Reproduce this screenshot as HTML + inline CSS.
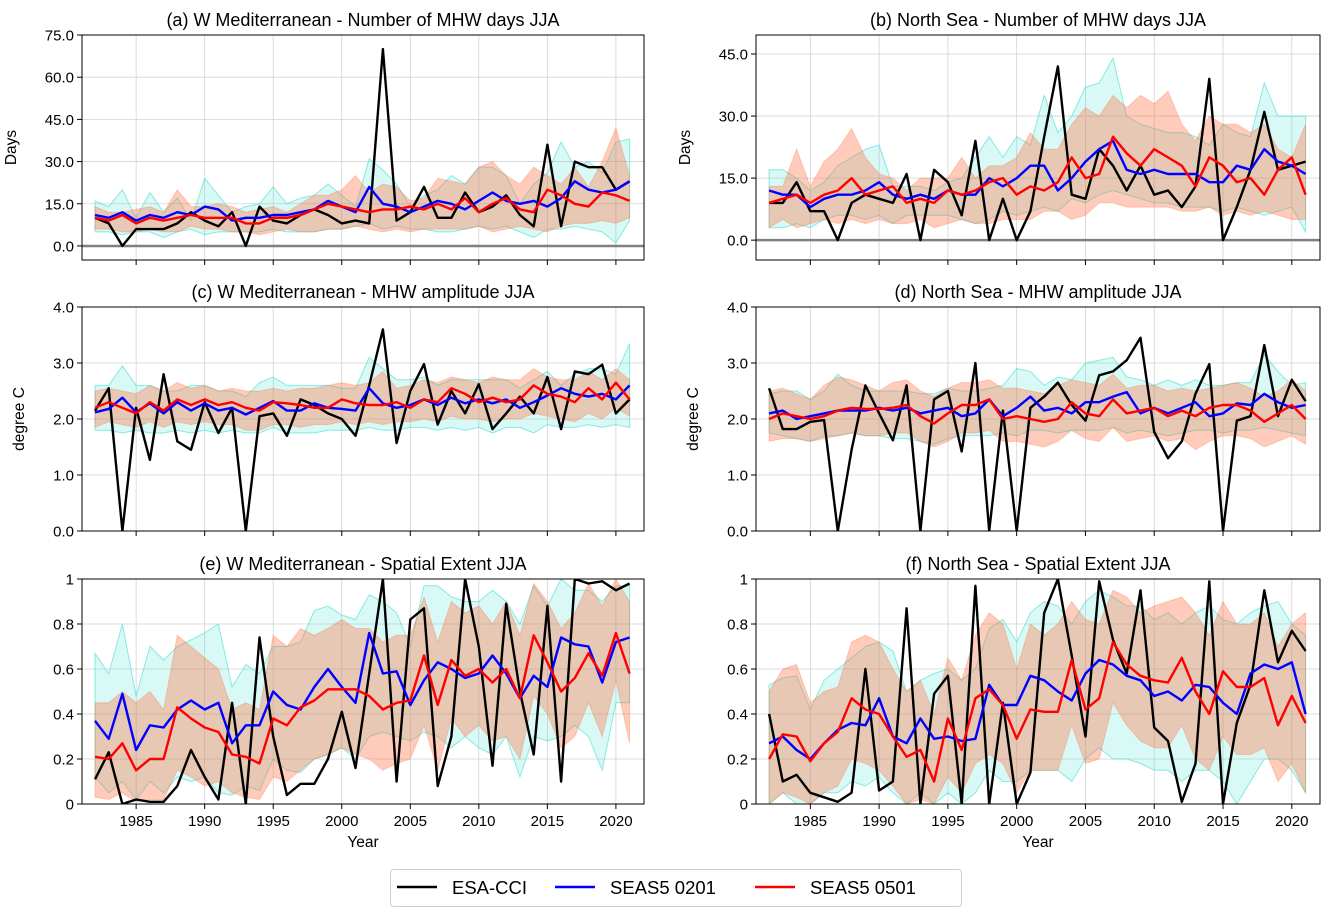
<!DOCTYPE html>
<html><head><meta charset="utf-8"><style>
html,body{margin:0;padding:0;background:#fff;}
svg{display:block;font-family:"Liberation Sans","DejaVu Sans",sans-serif;}
</style></head><body>
<svg id="s" width="1334" height="919" xmlns="http://www.w3.org/2000/svg"></svg>
<script>
const S=document.getElementById('s');let h='';
const P=[
{x0:82,x1:644,y0:35,y1:260,ymin:-5,ymax:75,ticks:[0,15,30,45,60,75],fmt:v=>v.toFixed(1),title:'(a) W Mediterranean - Number of MHW days JJA',yl:'Days',zero:true,xl:false,
k:[10,8,0,6,6,6,8,12,9,7,12,0,14,9,8,11,13,11,8,9,8,70,9,12,21,10,10,19,12,14,18,11,7,36,7,30,28,28,20,23],
b:[11,10,12,9,11,10,12,11,14,13,9,10,10,11,11,12,13,16,14,12,21,15,14,12,14,16,15,13,16,19,16,15,16,14,17,23,20,19,20,23],
r:[10,9,11,8,10,9,10,11,10,10,10,8,8,10,10,11,13,15,14,13,12,13,13,14,13,15,13,17,12,15,17,13,12,20,18,15,14,19,18,16],
cu:[16,14,20,10,19,12,17,9,24,18,12,14,15,21,15,17,18,22,18,14,31,27,22,14,18,20,25,22,28,28,25,15,22,26,37,28,30,26,37,38],
cl:[5,5,4,5,5,3,5,6,4,5,5,5,5,6,5,5,5,6,6,7,8,6,7,6,6,5,5,6,7,6,7,5,3,6,6,7,6,5,1,9],
ou:[14,12,12,13,14,12,20,14,14,15,14,12,13,14,12,15,18,18,20,25,19,22,21,16,17,24,23,22,28,30,25,22,28,25,22,28,21,30,42,25],
ol:[6,6,5,5,6,5,5,7,6,6,5,5,4,5,6,5,5,6,6,7,6,5,6,5,6,6,6,6,7,5,6,7,6,5,7,8,8,9,8,10]},
{x0:756,x1:1320,y0:35,y1:260,ymin:-4.8,ymax:49.6,ticks:[0,15,30,45],fmt:v=>v.toFixed(1),title:'(b) North Sea - Number of MHW days JJA',yl:'Days',zero:true,xl:false,
k:[9,9,14,7,7,0,9,11,10,9,16,0,17,14,6,24,0,10,0,7,25,42,11,10,22,18,12,18,11,12,8,13,39,0,8,17,31,17,18,19],
b:[12,11,11,8,10,11,11,12,14,11,10,11,10,12,11,11,15,13,15,18,18,12,15,19,22,24,17,16,17,16,16,16,14,14,18,17,22,19,18,16],
r:[9,10,11,9,11,12,15,11,12,13,9,10,9,12,11,12,14,15,11,13,12,14,20,15,16,25,21,18,22,20,18,13,20,18,14,15,11,17,20,11],
cu:[17,17,15,12,14,18,20,22,23,13,13,13,12,14,15,20,25,20,25,23,35,26,30,37,38,44,30,28,27,26,26,25,23,28,26,25,38,30,30,30],
cl:[3,3,4,3,5,6,6,5,6,4,6,6,6,6,5,4,5,7,6,7,8,7,10,9,11,12,11,10,9,9,8,8,8,7,8,7,6,7,8,2],
ou:[13,13,22,13,19,22,27,20,16,15,12,15,15,15,20,15,18,18,20,26,22,22,28,32,30,35,32,35,33,36,28,24,30,28,28,26,28,22,20,28],
ol:[3,5,3,4,5,4,5,4,5,4,4,5,3,4,5,4,4,5,5,5,7,7,5,6,9,9,8,8,8,8,7,7,8,6,7,6,7,6,5,5]},
{x0:82,x1:644,y0:307,y1:531,ymin:0,ymax:4,ticks:[0,1,2,3,4],fmt:v=>v.toFixed(1),title:'(c) W Mediterranean - MHW amplitude JJA',yl:'degree C',xl:false,
k:[2.15,2.55,0,2.2,1.27,2.8,1.6,1.45,2.3,1.75,2.2,0,2.05,2.1,1.7,2.35,2.25,2.1,2.0,1.7,2.6,3.6,1.57,2.5,2.98,1.9,2.5,2.1,2.62,1.82,2.1,2.4,2.1,2.75,1.82,2.85,2.8,2.97,2.1,2.35],
b:[2.12,2.18,2.38,2.12,2.28,2.1,2.3,2.15,2.28,2.15,2.2,2.08,2.2,2.32,2.15,2.15,2.28,2.2,2.18,2.15,2.55,2.28,2.2,2.25,2.35,2.25,2.38,2.28,2.35,2.28,2.35,2.2,2.3,2.42,2.55,2.45,2.4,2.45,2.35,2.6],
r:[2.2,2.3,2.2,2.1,2.3,2.15,2.35,2.25,2.35,2.25,2.3,2.2,2.15,2.3,2.28,2.25,2.2,2.2,2.35,2.28,2.25,2.25,2.3,2.2,2.35,2.3,2.55,2.45,2.3,2.38,2.3,2.35,2.6,2.45,2.4,2.3,2.55,2.35,2.65,2.35],
cu:[2.6,2.6,2.95,2.6,2.6,2.5,2.5,2.6,2.6,2.5,2.5,2.4,2.65,2.75,2.6,2.6,2.6,2.6,2.55,2.55,3.1,2.9,2.7,2.7,2.75,2.6,2.7,2.7,2.7,2.7,2.7,2.55,2.7,2.85,2.6,2.8,2.9,2.9,2.8,3.35],
cl:[1.8,1.8,1.75,1.8,1.75,1.75,1.8,1.75,1.8,1.75,1.8,1.75,1.75,1.85,1.75,1.75,1.75,1.8,1.8,1.8,1.85,1.8,1.8,1.85,1.85,1.8,1.85,1.8,1.85,1.75,1.85,1.85,1.75,1.9,1.85,1.85,1.9,1.85,1.9,1.85],
ou:[2.5,2.55,2.5,2.45,2.6,2.5,2.65,2.55,2.6,2.5,2.55,2.5,2.5,2.55,2.5,2.55,2.55,2.6,2.65,2.6,2.65,2.85,2.55,2.6,2.7,2.65,2.75,2.7,2.65,2.75,2.7,2.7,2.9,2.75,2.7,2.7,2.85,2.7,2.9,2.7],
ol:[1.85,1.95,1.9,1.85,1.95,1.85,1.95,1.9,1.95,1.9,1.9,1.8,1.8,1.9,1.9,1.85,1.9,1.9,1.95,1.9,1.95,1.9,1.95,1.95,2.0,1.95,2.05,2.0,2.0,1.95,2.0,2.0,2.1,2.05,2.0,1.95,2.1,2.0,2.2,2.05]},
{x0:756,x1:1320,y0:307,y1:531,ymin:0,ymax:4,ticks:[0,1,2,3,4],fmt:v=>v.toFixed(1),title:'(d) North Sea - MHW amplitude JJA',yl:'degree C',xl:false,
k:[2.55,1.82,1.82,1.95,1.98,0,1.45,2.6,2.1,1.62,2.6,0,2.35,2.5,1.42,3.0,0,2.15,0,2.2,2.4,2.65,2.25,1.97,2.78,2.85,3.05,3.45,1.77,1.3,1.6,2.45,2.98,0,1.97,2.05,3.32,2.05,2.7,2.32],
b:[2.1,2.15,2.0,2.05,2.1,2.15,2.15,2.15,2.2,2.15,2.2,2.1,2.15,2.2,2.05,2.1,2.35,2.05,2.2,2.4,2.15,2.2,2.1,2.3,2.3,2.4,2.48,2.1,2.2,2.1,2.2,2.3,2.05,2.1,2.28,2.25,2.45,2.3,2.2,2.25],
r:[2.0,2.1,2.05,2.0,2.05,2.15,2.2,2.18,2.18,2.2,2.25,2.05,1.92,2.1,2.25,2.25,2.35,2.0,2.05,2.0,1.95,2.0,2.3,2.1,2.05,2.35,2.1,2.15,2.2,2.05,2.15,2.05,2.2,2.25,2.25,2.15,1.95,2.1,2.25,2.0],
cu:[2.45,2.5,2.5,2.35,2.5,2.8,2.6,2.5,2.5,2.5,2.5,2.45,2.45,2.55,2.5,2.5,2.55,2.6,2.9,2.85,2.6,2.75,2.7,3.0,3.05,3.1,2.75,2.7,2.6,2.7,2.6,2.7,2.6,2.6,2.65,2.65,3.15,2.85,2.6,2.65],
cl:[1.75,1.7,1.65,1.6,1.7,1.7,1.75,1.7,1.7,1.65,1.65,1.6,1.55,1.65,1.7,1.7,1.7,1.75,1.7,1.8,1.8,1.75,1.8,1.8,1.8,1.85,1.75,1.8,1.75,1.7,1.75,1.8,1.8,1.75,1.8,1.8,1.85,1.8,1.75,1.7],
ou:[2.5,2.55,2.45,2.35,2.6,2.75,2.7,2.6,2.5,2.65,2.7,2.5,2.4,2.55,2.65,2.65,2.7,2.55,2.55,2.5,2.45,2.6,2.7,2.65,2.6,2.8,2.55,2.6,2.6,2.5,2.55,2.5,2.55,2.6,2.65,2.55,2.4,2.5,2.7,2.5],
ol:[1.6,1.65,1.65,1.6,1.65,1.7,1.75,1.7,1.7,1.75,1.75,1.6,1.5,1.6,1.75,1.75,1.8,1.6,1.6,1.55,1.5,1.6,1.8,1.65,1.6,1.85,1.6,1.65,1.7,1.6,1.65,1.45,1.6,1.7,1.7,1.65,1.5,1.6,1.7,1.55]},
{x0:82,x1:644,y0:579,y1:804,ymin:0,ymax:1,ticks:[0,0.2,0.4,0.6,0.8,1],fmt:v=>String(+v.toFixed(1)),title:'(e) W Mediterranean - Spatial Extent JJA',yl:'',xl:true,
k:[0.11,0.23,0,0.02,0.01,0.01,0.08,0.24,0.12,0.02,0.45,0,0.74,0.3,0.04,0.09,0.09,0.2,0.41,0.16,0.58,1.0,0.1,0.82,0.87,0.08,0.3,1.0,0.7,0.17,0.89,0.5,0.22,0.88,0.1,1.0,0.98,0.99,0.95,0.98],
b:[0.37,0.29,0.49,0.24,0.35,0.34,0.42,0.46,0.42,0.45,0.27,0.35,0.35,0.5,0.44,0.42,0.52,0.6,0.52,0.45,0.76,0.58,0.59,0.44,0.55,0.63,0.6,0.56,0.58,0.66,0.58,0.47,0.57,0.52,0.74,0.71,0.7,0.54,0.72,0.74],
r:[0.21,0.2,0.27,0.15,0.2,0.2,0.43,0.38,0.34,0.32,0.22,0.21,0.18,0.38,0.35,0.43,0.46,0.51,0.51,0.51,0.48,0.42,0.45,0.46,0.66,0.44,0.64,0.57,0.6,0.54,0.6,0.47,0.75,0.63,0.5,0.56,0.67,0.57,0.76,0.58],
cu:[0.67,0.58,0.8,0.48,0.7,0.64,0.7,0.73,0.76,0.8,0.52,0.62,0.58,0.7,0.7,0.72,0.86,0.88,0.84,0.82,0.93,0.9,0.85,0.7,0.97,0.97,0.92,0.9,0.9,0.95,0.9,0.8,0.97,0.88,1.0,0.95,0.95,0.9,0.97,0.97],
cl:[0.12,0.05,0.1,0.02,0.1,0.05,0.12,0.1,0.12,0.05,0.04,0.08,0.06,0.2,0.15,0.14,0.2,0.22,0.25,0.2,0.3,0.32,0.3,0.28,0.32,0.3,0.25,0.3,0.25,0.22,0.3,0.12,0.3,0.28,0.3,0.35,0.3,0.15,0.45,0.45],
ou:[0.45,0.45,0.5,0.45,0.5,0.42,0.75,0.7,0.65,0.6,0.42,0.45,0.42,0.75,0.7,0.78,0.75,0.78,0.82,0.78,0.78,0.72,0.75,0.75,0.92,0.72,0.9,0.85,0.88,0.8,0.9,0.75,0.98,0.9,0.78,0.85,0.98,0.88,1.0,0.9],
ol:[0.03,0.02,0.05,0.01,0.02,0.02,0.15,0.12,0.08,0.1,0.05,0.03,0.02,0.12,0.1,0.15,0.2,0.22,0.25,0.22,0.2,0.15,0.18,0.2,0.35,0.15,0.38,0.3,0.35,0.28,0.3,0.2,0.48,0.4,0.25,0.3,0.45,0.3,0.55,0.27]},
{x0:756,x1:1320,y0:579,y1:804,ymin:0,ymax:1,ticks:[0,0.2,0.4,0.6,0.8,1],fmt:v=>String(+v.toFixed(1)),title:'(f) North Sea - Spatial Extent JJA',yl:'',xl:true,
k:[0.4,0.1,0.13,0.05,0.03,0.01,0.05,0.6,0.06,0.1,0.87,0,0.49,0.57,0,0.97,0,0.45,0,0.14,0.85,1.0,0.66,0.3,0.99,0.73,0.58,0.95,0.34,0.28,0.01,0.18,0.99,0,0.36,0.53,0.95,0.63,0.77,0.68],
b:[0.27,0.3,0.24,0.2,0.27,0.33,0.36,0.35,0.47,0.3,0.27,0.38,0.29,0.3,0.28,0.29,0.53,0.44,0.44,0.57,0.55,0.5,0.46,0.58,0.64,0.62,0.57,0.55,0.48,0.5,0.46,0.53,0.52,0.45,0.4,0.58,0.62,0.6,0.63,0.4],
r:[0.2,0.31,0.3,0.19,0.27,0.32,0.47,0.42,0.4,0.3,0.21,0.24,0.1,0.38,0.24,0.47,0.51,0.44,0.29,0.42,0.41,0.41,0.64,0.42,0.47,0.72,0.62,0.57,0.55,0.54,0.65,0.5,0.4,0.59,0.52,0.52,0.56,0.35,0.48,0.36],
cu:[0.53,0.56,0.57,0.42,0.55,0.6,0.65,0.7,0.72,0.68,0.5,0.55,0.58,0.6,0.55,0.6,0.78,0.82,0.72,0.85,0.9,0.88,0.8,0.9,0.95,0.92,0.88,0.88,0.82,0.85,0.8,0.85,0.88,0.82,0.8,0.85,0.88,0.9,0.8,0.75],
cl:[0,0.05,0,0,0.05,0.05,0.1,0.08,0.12,0.05,0,0.05,0,0.05,0,0.05,0.15,0.1,0.1,0.15,0.15,0.15,0.1,0.2,0.25,0.2,0.2,0.18,0.15,0.15,0.1,0.15,0.15,0.1,0,0.1,0.2,0.2,0.15,0.05],
ou:[0.5,0.6,0.62,0.45,0.5,0.52,0.72,0.75,0.72,0.6,0.5,0.55,0.4,0.65,0.55,0.75,0.85,0.8,0.6,0.8,0.75,0.8,0.9,0.82,0.8,0.95,0.92,0.85,0.88,0.9,0.92,0.85,0.75,0.9,0.8,0.8,0.85,0.7,0.8,0.85],
ol:[0,0.05,0.03,0,0.05,0.08,0.2,0.18,0.15,0.08,0,0.02,0,0.12,0.05,0.18,0.22,0.18,0.05,0.15,0.15,0.15,0.35,0.18,0.2,0.45,0.35,0.28,0.25,0.25,0.35,0.2,0.15,0.3,0.22,0.22,0.25,0.1,0.18,0.05]}
];
const XMIN=1981.05,XMAX=2022.05;
P.forEach((p,i)=>{
 const X=y=>p.x0+(y-XMIN)/(XMAX-XMIN)*(p.x1-p.x0);
 const Y=v=>p.y1-(v-p.ymin)/(p.ymax-p.ymin)*(p.y1-p.y0);
 const cid='c'+i;
 h+=`<clipPath id="${cid}"><rect x="${p.x0}" y="${p.y0}" width="${p.x1-p.x0}" height="${p.y1-p.y0}"/></clipPath>`;
 for(let yr=1985;yr<=2020;yr+=5){const x=X(yr);h+=`<line x1="${x}" y1="${p.y0}" x2="${x}" y2="${p.y1}" stroke="#d3d3d3" stroke-width="0.8"/>`;}
 p.ticks.forEach(t=>{const y=Y(t);h+=`<line x1="${p.x0}" y1="${y}" x2="${p.x1}" y2="${y}" stroke="#d3d3d3" stroke-width="0.8"/>`;});
 const band=(u,l,fill,st)=>{let d='M';u.forEach((v,j)=>d+=`${X(1982+j).toFixed(1)},${Y(v).toFixed(1)} L`);for(let j=l.length-1;j>=0;j--)d+=`${X(1982+j).toFixed(1)},${Y(l[j]).toFixed(1)} L`;d=d.slice(0,-2)+'Z';h+=`<path d="${d}" fill="${fill}" stroke="${st}" stroke-width="1" clip-path="url(#${cid})"/>`;};
 band(p.cu,p.cl,'rgba(64,224,208,0.2)','rgba(64,224,208,0.6)');
 band(p.ou,p.ol,'rgba(255,110,60,0.35)','rgba(255,110,60,0.3)');
 if(p.zero)h+=`<line x1="${p.x0}" y1="${Y(0)}" x2="${p.x1}" y2="${Y(0)}" stroke="#808080" stroke-width="2.5"/>`;
 const line=(a,c)=>{h+=`<polyline points="${a.map((v,j)=>X(1982+j).toFixed(1)+','+Y(v).toFixed(1)).join(' ')}" fill="none" stroke="${c}" stroke-width="2.4" stroke-linejoin="round" clip-path="url(#${cid})"/>`;};
 line(p.k,'#000');line(p.b,'#0000ff');line(p.r,'#ff0000');
 h+=`<rect x="${p.x0}" y="${p.y0}" width="${p.x1-p.x0}" height="${p.y1-p.y0}" fill="none" stroke="#000" stroke-width="1"/>`;
 for(let yr=1985;yr<=2020;yr+=5){const x=X(yr);h+=`<line x1="${x}" y1="${p.y1}" x2="${x}" y2="${p.y1+5}" stroke="#000"/>`;if(p.xl)h+=`<text x="${x}" y="${p.y1+22}" font-size="15" text-anchor="middle">${yr}</text>`;}
 p.ticks.forEach(t=>{const y=Y(t);h+=`<line x1="${p.x0-5}" y1="${y}" x2="${p.x0}" y2="${y}" stroke="#000"/><text x="${p.x0-8}" y="${y+5.5}" font-size="15" text-anchor="end">${p.fmt(t)}</text>`;});
 h+=`<text x="${(p.x0+p.x1)/2}" y="${p.y0-9}" font-size="18" text-anchor="middle">${p.title}</text>`;
 if(p.yl){const cx=p.x0-(p.yl==='Days'?66:58),cy=(p.y0+p.y1)/2;h+=`<text x="${cx}" y="${cy}" font-size="15.5" text-anchor="middle" transform="rotate(-90 ${cx} ${cy})">${p.yl}</text>`;}
 if(p.xl)h+=`<text x="${(p.x0+p.x1)/2}" y="${p.y1+43}" font-size="15.5" text-anchor="middle">Year</text>`;
});
h+=`<rect x="390.5" y="869.5" width="571" height="37" rx="3" fill="#fff" stroke="#ccc"/>`;
[['ESA-CCI','#000',397],['SEAS5 0201','#0000ff',555],['SEAS5 0501','#ff0000',755]].forEach(([t,c,x])=>{h+=`<line x1="${x}" y1="887" x2="${x+40}" y2="887" stroke="${c}" stroke-width="2.5"/><text x="${x+55}" y="894" font-size="18.5">${t}</text>`;});
S.innerHTML=h;
</script>
</body></html>
